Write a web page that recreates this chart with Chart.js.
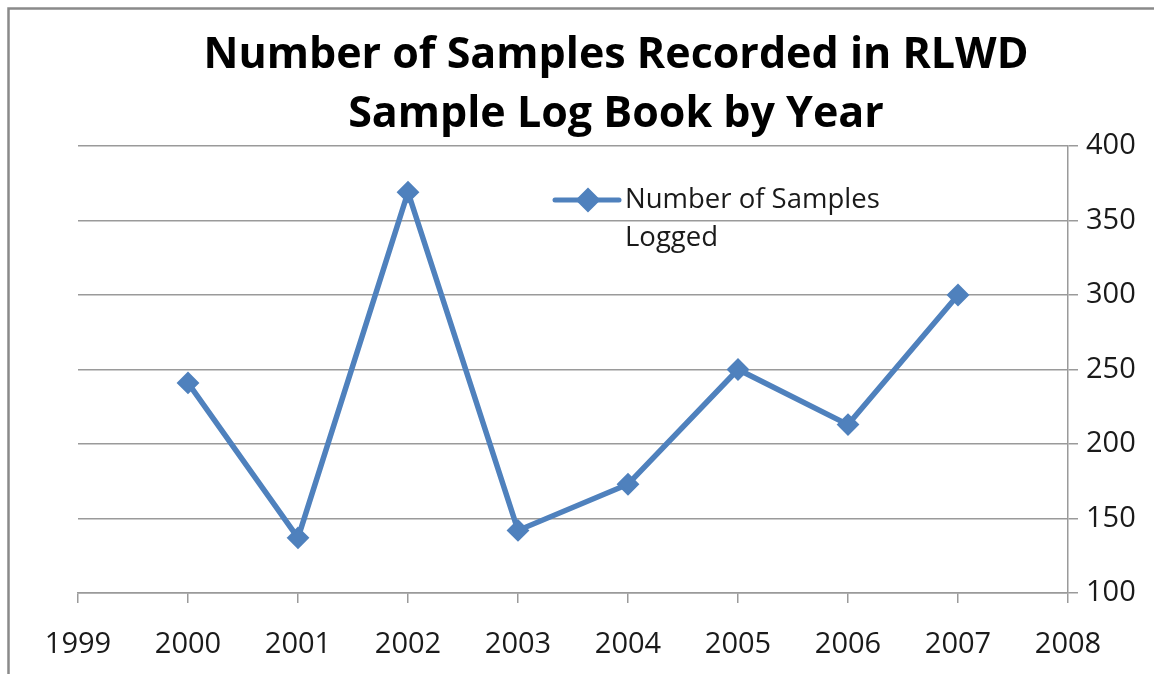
<!DOCTYPE html>
<html>
<head>
<meta charset="utf-8">
<title>Number of Samples Recorded in RLWD Sample Log Book by Year</title>
<script src="https://cdn.jsdelivr.net/npm/chart.js@4.4.1/dist/chart.umd.min.js"></script>
<style>
  html, body { margin: 0; padding: 0; background: #fff; }
  #wrap { width: 1154px; height: 674px; }
</style>
</head>
<body>
<div id="wrap"><canvas id="samplesChart"></canvas></div>
<script>
// ── Data ─────────────────────────────────────
const YEARS   = [2000, 2001, 2002, 2003, 2004, 2005, 2006, 2007];
const SAMPLES = [241, 137, 369, 142, 173, 250, 213, 300];
const X_RANGE = [1999, 2008];
const Y_TICKS = [100, 150, 200, 250, 300, 350, 400];

const SERIES_LABEL = ['Number of Samples', 'Logged'];
const TITLE_LINES  = ['Number of Samples Recorded in RLWD', 'Sample Log Book by Year'];

const BLUE = '#4F81BD';
const GRID = '#9a9a9a';
const FONT = "'Open Sans', 'Noto Sans', sans-serif";

// ── Outer frame (top + left edge only, like the source) ──
const framePlugin = {
  id: 'frame',
  beforeDraw(chart) {
    const { ctx, width, height } = chart;
    ctx.save();
    ctx.strokeStyle = '#8a8a8a';
    ctx.lineWidth = 2.5;
    ctx.beginPath();
    ctx.moveTo(width, 8.5);
    ctx.lineTo(8.5, 8.5);
    ctx.lineTo(8.5, height);
    ctx.stroke();
    ctx.restore();
  }
};

// ── Legend drawn inside plot, with wrapped label ──
const insideLegend = {
  id: 'insideLegend',
  afterDraw(chart) {
    const { ctx, chartArea } = chart;
    const x = chartArea.left + 477;
    const y = chartArea.top + 54;
    ctx.save();
    ctx.strokeStyle = BLUE;
    ctx.lineWidth = 5;
    ctx.lineCap = 'round';
    ctx.beginPath();
    ctx.moveTo(x, y);
    ctx.lineTo(x + 64, y);
    ctx.stroke();
    Chart.helpers.drawPoint(ctx, {
      pointStyle: 'rectRot', radius: 9, borderWidth: 1
    }, x + 33, y);
    ctx.fillStyle = BLUE;
    ctx.fill();
    ctx.fillStyle = '#1a1a1a';
    ctx.font = `27.5px ${FONT}`;
    ctx.textBaseline = 'middle';
    ctx.textAlign = 'left';
    SERIES_LABEL.forEach((line, i) => {
      ctx.fillText(line, x + 70, y + i * 38);
    });
    ctx.restore();
  }
};

const ctx = document.getElementById('samplesChart').getContext('2d');

new Chart(ctx, {
  type: 'line',
  data: {
    datasets: [{
      label: SERIES_LABEL.join(' '),
      data: YEARS.map((yr, i) => ({ x: yr, y: SAMPLES[i] })),
      borderColor: BLUE,
      backgroundColor: BLUE,
      borderWidth: 5.5,
      pointStyle: 'rectRot',
      pointRadius: 10,
      pointBorderWidth: 2,
      tension: 0
    }]
  },
  options: {
    responsive: true,
    maintainAspectRatio: false,
    animation: false,
    layout: { padding: { left: 78, right: 0, top: 0, bottom: 0 } },
    plugins: {
      legend: { display: false },
      tooltip: { enabled: false },
      title: {
        display: true,
        text: TITLE_LINES,
        color: '#000',
        font: { family: FONT, size: 43, weight: 'bold', lineHeight: 1.36 },
        padding: { top: 27, bottom: 2 }
      }
    },
    scales: {
      x: {
        type: 'linear',
        min: X_RANGE[0],
        max: X_RANGE[1],
        afterFit(scale) { scale.height = 81; },
        afterBuildTicks(scale) {
          const t = [];
          for (let v = X_RANGE[0]; v <= X_RANGE[1]; v++) t.push({ value: v });
          scale.ticks = t;
        },
        border: { display: true, color: GRID, width: 1.5 },
        grid: {
          drawOnChartArea: false,
          drawTicks: true,
          tickLength: 10,
          color: GRID,
          lineWidth: 1.5
        },
        ticks: {
          color: '#1a1a1a',
          font: { family: FONT, size: 29 },
          padding: 24,
          maxRotation: 0,
          autoSkip: false,
          callback: v => String(v)
        }
      },
      y: {
        position: 'right',
        min: Y_TICKS[0],
        max: Y_TICKS[Y_TICKS.length - 1],
        afterFit(scale) { scale.width = 86; },
        afterBuildTicks(scale) {
          scale.ticks = Y_TICKS.map(v => ({ value: v }));
        },
        border: { display: true, color: GRID, width: 1.5 },
        grid: {
          color: GRID,
          lineWidth: 1.5,
          drawTicks: true,
          tickLength: 10
        },
        ticks: {
          color: '#1a1a1a',
          font: { family: FONT, size: 29 },
          padding: 8,
          callback: v => String(v)
        }
      }
    }
  },
  plugins: [framePlugin, insideLegend]
});
</script>
</body>
</html>
